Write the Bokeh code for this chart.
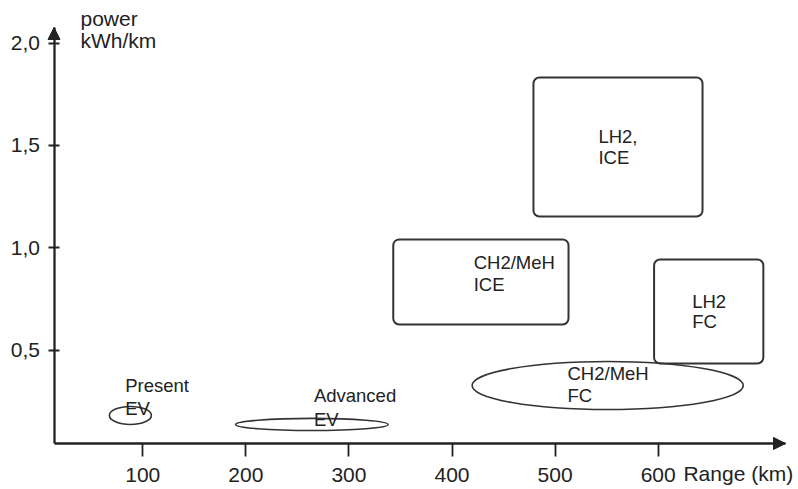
from bokeh.plotting import figure
from bokeh.models import Range1d, LinearAxis, FixedTicker, Arrow, NormalHead, ColumnDataSource, Label
from bokeh.core.properties import value
from bokeh.embed import file_html
from bokeh.resources import INLINE

# ---- data ----
x_ticks = [100, 200, 300, 400, 500, 600]
y_ticks = [0.5, 1.0, 1.5, 2.0]
y_tick_labels = ["0,5", "1,0", "1,5", "2,0"]

# rounded-rectangle regions (range km, power kWh/km)
box_names = ["LH2, ICE", "CH2/MeH ICE", "LH2 FC"]
box_left = [479, 343, 596]
box_right = [643, 513, 702]
box_top = [1.832, 1.041, 0.943]
box_bottom = [1.153, 0.625, 0.435]

# elliptical regions
ell_names = ["Present EV", "Advanced EV", "CH2/MeH FC"]
ell_x = [88, 264, 551]
ell_y = [0.181, 0.137, 0.327]
ell_w = [40.7, 148, 263]
ell_h = [0.088, 0.059, 0.2345]

# region labels (one entry per text line)
label_text = ["LH2,", "ICE", "CH2/MeH", "ICE", "LH2", "FC",
              "CH2/MeH", "FC", "Present", "EV", "Advanced", "EV"]
label_x = [542, 542, 421, 421, 633, 633, 512, 512, 83, 83, 266, 266]
label_y = [1.542, 1.439, 0.926, 0.819, 0.740, 0.638,
           0.384, 0.276, 0.325, 0.213, 0.276, 0.159]

y_title = ["power", "kWh/km"]
x_title = "Range (km)"

# axis geometry (data units)
x_origin, y_origin = 13.9, 0.044
x_end, y_end = 723.5, 2.076

FONT = "Liberation Sans"
LINE = "#333333"
TEXT = "#222222"

p = figure(width=798, height=489,
           x_range=Range1d(-38.0, 736.1), y_range=Range1d(-0.1808, 2.208),
           x_axis_type=None, y_axis_type=None,
           output_backend="svg", toolbar_location=None,
           min_border=0, outline_line_color=None)
p.background_fill_color = "white"
p.border_fill_color = "white"

def style_axis(ax):
    ax.axis_line_color = TEXT
    ax.axis_line_width = 2.3
    ax.major_tick_line_color = TEXT
    ax.major_tick_line_width = 1.8
    ax.minor_tick_line_color = None
    ax.major_label_text_font = FONT
    ax.major_label_text_font_size = "21px"
    ax.major_label_text_color = TEXT

yaxis = LinearAxis(fixed_location=x_origin, bounds=(y_origin, y_end),
                   ticker=FixedTicker(ticks=y_ticks),
                   major_label_overrides=dict(zip(y_ticks, y_tick_labels)))
style_axis(yaxis)
yaxis.major_tick_in = 5
yaxis.major_tick_out = 6
yaxis.major_label_standoff = 8
p.add_layout(yaxis, "left")

xaxis = LinearAxis(fixed_location=y_origin, bounds=(x_origin, x_end),
                   ticker=FixedTicker(ticks=x_ticks))
style_axis(xaxis)
xaxis.major_tick_in = 0
xaxis.major_tick_out = 13
xaxis.major_label_standoff = 12
p.add_layout(xaxis, "below")

# arrow heads
p.add_layout(Arrow(end=NormalHead(size=12, fill_color=TEXT, line_color=TEXT),
                   x_start=x_end - 20, y_start=y_origin, x_end=x_end, y_end=y_origin,
                   line_alpha=0))
p.add_layout(Arrow(end=NormalHead(size=12, fill_color=TEXT, line_color=TEXT),
                   x_start=x_origin, y_start=y_end - 0.1, x_end=x_origin, y_end=y_end,
                   line_alpha=0))

box_src = ColumnDataSource(dict(left=box_left, right=box_right, top=box_top,
                                bottom=box_bottom, name=box_names))
p.quad(left="left", right="right", top="top", bottom="bottom", source=box_src,
       fill_color=None, line_color=LINE, line_width=2, border_radius=6)

ell_src = ColumnDataSource(dict(x=ell_x, y=ell_y, w=ell_w, h=ell_h, name=ell_names))
p.ellipse(x="x", y="y", width="w", height="h", source=ell_src,
          fill_color=None, line_color=LINE, line_width=1.6)

lab_src = ColumnDataSource(dict(x=label_x, y=label_y, text=label_text))
p.text(x="x", y="y", text="text", source=lab_src,
       text_font=value(FONT), text_font_size="18.5px", text_color=TEXT,
       text_align="left", text_baseline="alphabetic")

p.add_layout(Label(x=39.6, y=2.121, text=y_title[0], text_font=FONT,
                   text_font_size="21px", text_color=TEXT, text_baseline="alphabetic"))
p.add_layout(Label(x=39.6, y=2.014, text=y_title[1], text_font=FONT,
                   text_font_size="21px", text_color=TEXT, text_baseline="alphabetic"))
p.add_layout(Label(x=624.5, y=-0.102, text=x_title, text_font=FONT,
                   text_font_size="21px", text_color=TEXT, text_baseline="alphabetic"))

open("out.html", "w").write(file_html(p, INLINE))
